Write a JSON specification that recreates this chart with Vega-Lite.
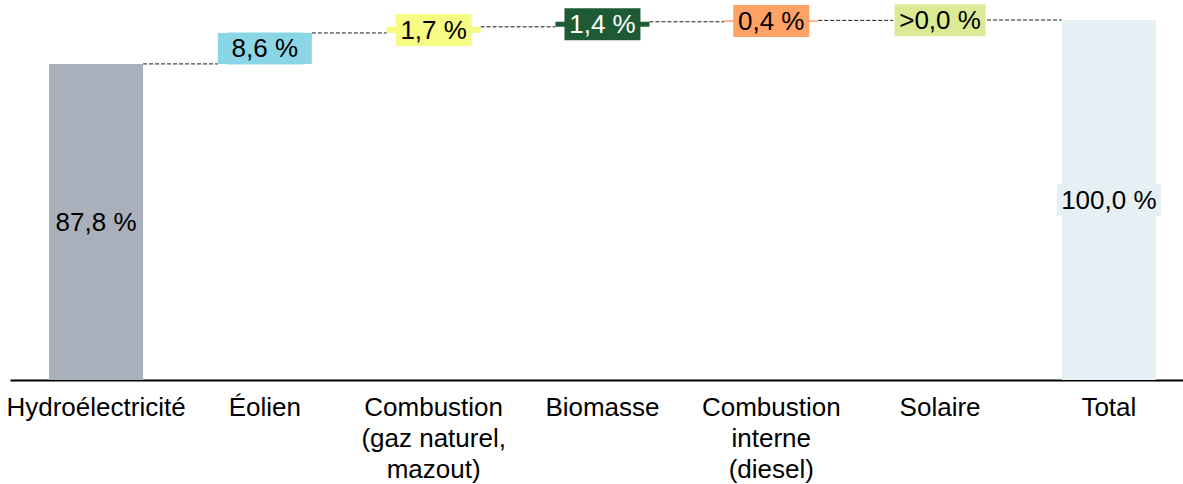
{
  "$schema": "https://vega.github.io/schema/vega-lite/v6.json",
  "autosize": {"type": "none"},
  "padding": {"left": 10, "top": 20, "right": 0, "bottom": 104},
  "width": 1173,
  "height": 360,
  "config": {"view": {"stroke": null}, "font": "Liberation Sans"},
  "datasets": {
    "segs": [
      {"cat": "Hydroélectricité", "start": 0, "end": 87.8, "text": "87,8 %"},
      {"cat": "Éolien", "start": 87.8, "end": 96.4, "text": "8,6 %"},
      {"cat": "Combustion|(gaz naturel,|mazout)", "start": 96.4, "end": 98.1, "text": "1,7 %"},
      {"cat": "Biomasse", "start": 98.1, "end": 99.5, "text": "1,4 %"},
      {"cat": "Combustion|interne|(diesel)", "start": 99.5, "end": 99.9, "text": "0,4 %"},
      {"cat": "Solaire", "start": 99.9, "end": 100, "text": ">0,0 %"},
      {"cat": "Total", "start": 0, "end": 100, "text": "100,0 %"}
    ],
    "links": [
      {"from": "Hydroélectricité", "to": "Éolien", "level": 87.8},
      {"from": "Éolien", "to": "Combustion|(gaz naturel,|mazout)", "level": 96.4},
      {"from": "Combustion|(gaz naturel,|mazout)", "to": "Biomasse", "level": 98.1},
      {"from": "Biomasse", "to": "Combustion|interne|(diesel)", "level": 99.5},
      {"from": "Combustion|interne|(diesel)", "to": "Solaire", "level": 99.9},
      {"from": "Solaire", "to": "Total", "level": 100}
    ]
  },
  "layer": [
    {
      "data": {"name": "links"},
      "mark": {"type": "rule", "strokeDash": [4, 2], "strokeWidth": 1, "color": "#1a1a1a", "xOffset": 47, "x2Offset": -47},
      "encoding": {
        "x": {"field": "from", "type": "nominal",
          "scale": {"domain": ["Hydroélectricité", "Éolien", "Combustion|(gaz naturel,|mazout)", "Biomasse", "Combustion|interne|(diesel)", "Solaire", "Total"], "paddingInner": 0.443, "paddingOuter": 0.196, "align": 0.59},
          "axis": {"title": null, "ticks": false, "domain": true, "domainColor": "#000000", "domainWidth": 2, "labelFont": "Liberation Sans", "labelFontSize": 26, "labelColor": "#000000", "labelPadding": 14, "labelLineHeight": 31, "labelAngle": 0, "labelLimit": 400, "labelOverlap": false, "labelExpr": "split(datum.value, '|')"}},
        "x2": {"field": "to"},
        "y": {"field": "level", "type": "quantitative", "scale": {"domain": [0, 100], "nice": false, "zero": true}, "axis": null}
      }
    },
    {
      "data": {"name": "segs"},
      "mark": {"type": "bar"},
      "encoding": {
        "x": {"field": "cat", "type": "nominal"},
        "y": {"field": "start", "type": "quantitative"},
        "y2": {"field": "end"},
        "color": {"field": "cat", "type": "nominal", "legend": null,
          "scale": {"domain": ["Hydroélectricité", "Éolien", "Combustion|(gaz naturel,|mazout)", "Biomasse", "Combustion|interne|(diesel)", "Solaire", "Total"],
            "range": ["#a9b0bb", "#8ad5e6", "#f6fb84", "#1e5b35", "#ffa265", "#dbeb95", "#e6eff3"]}}
      }
    },
    {
      "data": {"name": "segs"},
      "transform": [{"fold": ["start", "end"], "as": ["k", "v"]}],
      "mark": {"type": "point", "filled": true, "opacity": 1, "size": 10000, "strokeWidth": 0},
      "encoding": {
        "x": {"field": "cat", "type": "nominal"},
        "y": {"aggregate": "mean", "field": "v", "type": "quantitative"},
        "color": {"field": "cat", "type": "nominal", "legend": null},
        "shape": {"field": "cat", "type": "nominal", "legend": null,
          "scale": {"domain": ["Hydroélectricité", "Éolien", "Combustion|(gaz naturel,|mazout)", "Biomasse", "Combustion|interne|(diesel)", "Solaire", "Total"],
            "range": ["M-0.9,-0.32L0.9,-0.32L0.9,0.32L-0.9,0.32Z", "M-0.76,-0.32L0.76,-0.32L0.76,0.32L-0.76,0.32Z", "M-0.76,-0.32L0.76,-0.32L0.76,0.32L-0.76,0.32Z", "M-0.76,-0.32L0.76,-0.32L0.76,0.32L-0.76,0.32Z", "M-0.76,-0.32L0.76,-0.32L0.76,0.32L-0.76,0.32Z", "M-0.91,-0.32L0.91,-0.32L0.91,0.32L-0.91,0.32Z", "M-1.04,-0.32L1.04,-0.32L1.04,0.32L-1.04,0.32Z"]}}
      }
    },
    {
      "data": {"name": "segs"},
      "transform": [{"fold": ["start", "end"], "as": ["k", "v"]}],
      "mark": {"type": "text", "font": "Liberation Sans", "fontSize": 26, "baseline": "middle", "align": "center", "dy": 1},
      "encoding": {
        "x": {"field": "cat", "type": "nominal"},
        "y": {"aggregate": "mean", "field": "v", "type": "quantitative"},
        "text": {"field": "text", "type": "nominal"},
        "color": {"condition": {"test": "datum.cat === 'Biomasse'", "value": "#ffffff"}, "value": "#000000"}
      }
    }
  ]
}
